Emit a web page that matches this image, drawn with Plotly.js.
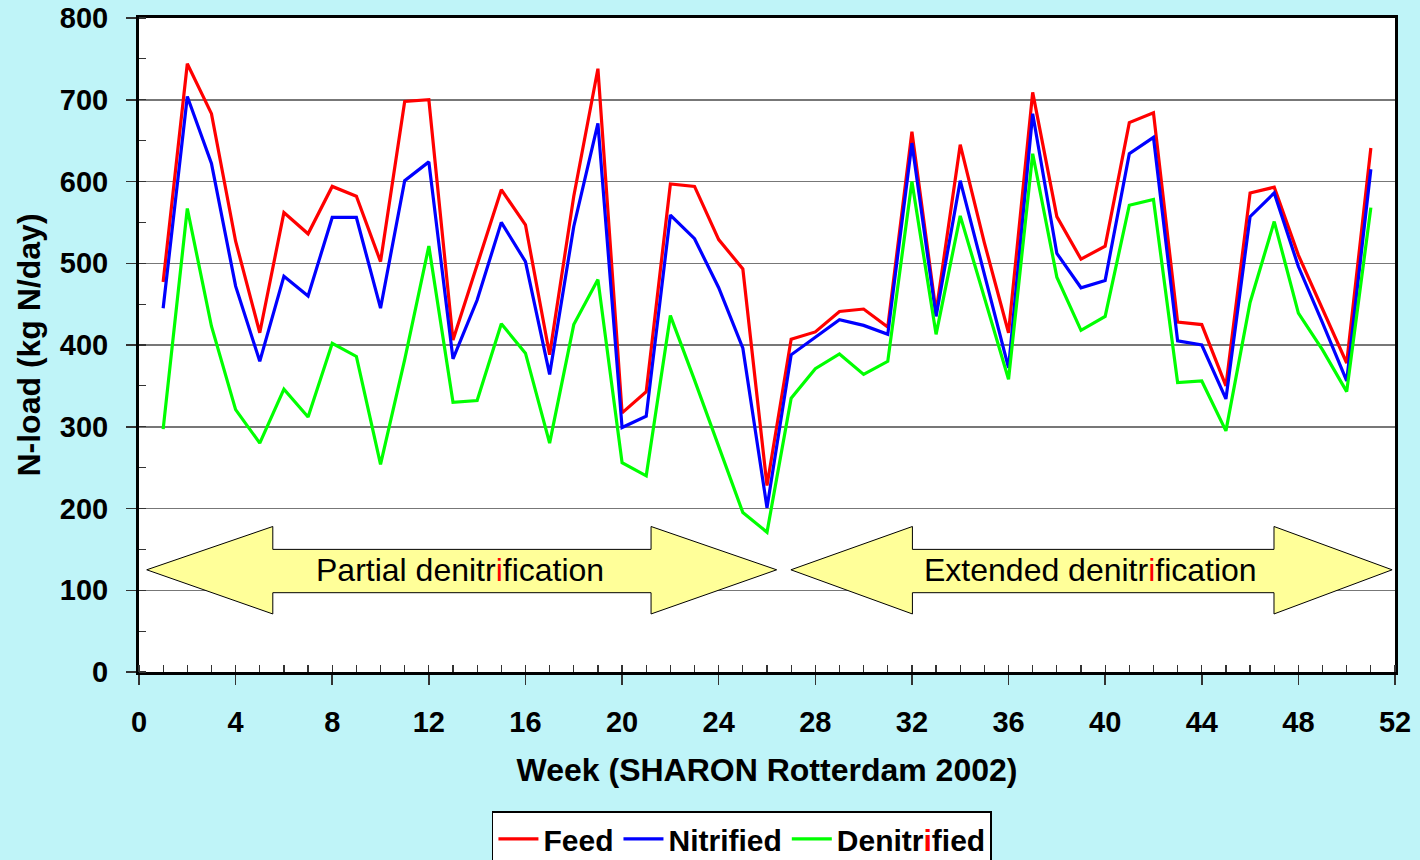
<!DOCTYPE html>
<html>
<head>
<meta charset="utf-8">
<script src="https://cdn.plot.ly/plotly-3.0.1.min.js"></script>
<style>
html,body{margin:0;padding:0;background:#BFF4F8;}
#chart{width:1420px;height:860px;}
</style>
</head>
<body>
<div id="chart"></div>
<script>
// ---- data ----
const weeks = [1,2,3,4,5,6,7,8,9,10,11,12,13,14,15,16,17,18,19,20,21,22,23,24,25,26,27,28,29,30,31,32,33,34,35,36,37,38,39,40,41,42,43,44,45,46,47,48,49,50,51];
const feed = [477,744,683,527,415,562,536,594,582,502,698,700,406,498,590,547,388,582,738,317,343,597,594,529,493,228,407,416,441,444,422,661,440,645,525,415,709,557,505,521,672,684,428,425,350,586,593,510,445,378,641];
const nitrified = [445,704,622,472,380,484,460,556,556,445,601,624,383,455,550,502,364,545,671,299,313,559,530,470,396,201,388,410,431,424,413,647,435,601,488,372,683,512,470,479,634,654,405,400,334,557,586,496,427,356,615];
const denitrified = [297,567,423,321,280,346,312,402,386,254,382,521,330,332,426,390,280,425,480,256,240,436,357,275,195,171,335,371,389,364,380,600,413,558,459,358,634,483,418,435,571,578,354,356,295,452,551,439,394,343,568];
const seriesNames = ['Feed','Nitrified','Denitr<span style="color:#FF0000">i</span>fied'];
const seriesColors = ['#FF0000','#0000FF','#00FF00'];
const xTickVals = [0,4,8,12,16,20,24,28,32,36,40,44,48,52];
const yTickVals = [0,100,200,300,400,500,600,700,800];
// phase arrows: [tipLeft, headBaseLeft, headBaseRight, tipRight] in weeks, label
const phases = [
  {x:[0.32,5.54,21.2,26.4], label:'Partial denitr<span style="color:#FF0000">i</span>fication', cx:13.3},
  {x:[26.99,32.02,46.99,51.88], label:'Extended denitr<span style="color:#FF0000">i</span>fication', cx:39.4}
];
const arrowY = {mid:125, bodyTop:150, bodyBot:97, headTop:178, headBot:71};

const FONT = 'Liberation Sans, Arial, Helvetica, sans-serif';
const seriesData = [feed, nitrified, denitrified];
const traces = seriesData.map((ys,i)=>({
  type:'scatter', mode:'lines', x:weeks, y:ys, name:seriesNames[i],
  line:{color:seriesColors[i], width:3.2}
}));

const shapes = phases.map(p=>{
  const [a,b,c,d] = p.x, Y = arrowY;
  return {
    type:'path', xref:'x', yref:'y', layer:'between',
    path:`M ${a} ${Y.mid} L ${b} ${Y.headTop} L ${b} ${Y.bodyTop} L ${c} ${Y.bodyTop} L ${c} ${Y.headTop} L ${d} ${Y.mid} L ${c} ${Y.headBot} L ${c} ${Y.bodyBot} L ${b} ${Y.bodyBot} L ${b} ${Y.headBot} Z`,
    fillcolor:'#FFFF99', line:{color:'#000000', width:1}
  };
});
const annotations = phases.map(p=>({
  x:p.cx, y:arrowY.mid, xref:'x', yref:'y', text:p.label, showarrow:false,
  font:{family:FONT, size:32, color:'#000000'}
}));

const layout = {
  width:1420, height:860,
  paper_bgcolor:'#BFF4F8', plot_bgcolor:'#FFFFFF',
  margin:{l:139, r:25, t:18, b:188, autoexpand:false},
  font:{family:FONT, color:'#000000'},
  showlegend:true,
  legend:{orientation:'h', x:0.281, y:-0.213, xanchor:'left', yanchor:'top',
    bgcolor:'#FFFFFF', bordercolor:'#000000', borderwidth:1.5,
    itemwidth:40, tracegroupgap:0,
    font:{family:FONT, size:30, weight:'bold', color:'#000000'}},
  xaxis:{
    range:[0,52], tickmode:'array', tickvals:xTickVals, automargin:false,
    ticks:'outside', ticklen:10, tickwidth:1.5, tickcolor:'#333333',
    minor:{dtick:1, tick0:0, ticks:'inside', ticklen:7, tickwidth:1.2, tickcolor:'#333333', showgrid:false},
    showgrid:false, zeroline:false,
    showline:true, linecolor:'#000000', linewidth:3, mirror:true,
    tickfont:{family:FONT, size:29, weight:'bold', color:'#000000'},
    ticklabelstandoff:12,
    title:{text:'Week (SHARON Rotterdam 2002)', font:{family:FONT, size:32, weight:'bold', color:'#000000'}, standoff:22}
  },
  yaxis:{
    range:[0,800], tickmode:'array', tickvals:yTickVals, automargin:false,
    ticks:'outside', ticklen:10, tickwidth:1.5, tickcolor:'#333333',
    minor:{dtick:50, tick0:0, ticks:'inside', ticklen:7, tickwidth:1.2, tickcolor:'#333333', showgrid:false},
    showgrid:true, gridcolor:'#777777', gridwidth:1.5, zeroline:false,
    showline:true, linecolor:'#000000', linewidth:3, mirror:true,
    tickfont:{family:FONT, size:29, weight:'bold', color:'#000000'},
    ticklabelstandoff:12,
    title:{text:'N-load (kg N/day)', font:{family:FONT, size:32, weight:'bold', color:'#000000'}, standoff:10}
  },
  shapes:shapes,
  annotations:annotations
};

Plotly.newPlot('chart', traces, layout, {displayModeBar:false, staticPlot:true});
</script>
</body>
</html>
